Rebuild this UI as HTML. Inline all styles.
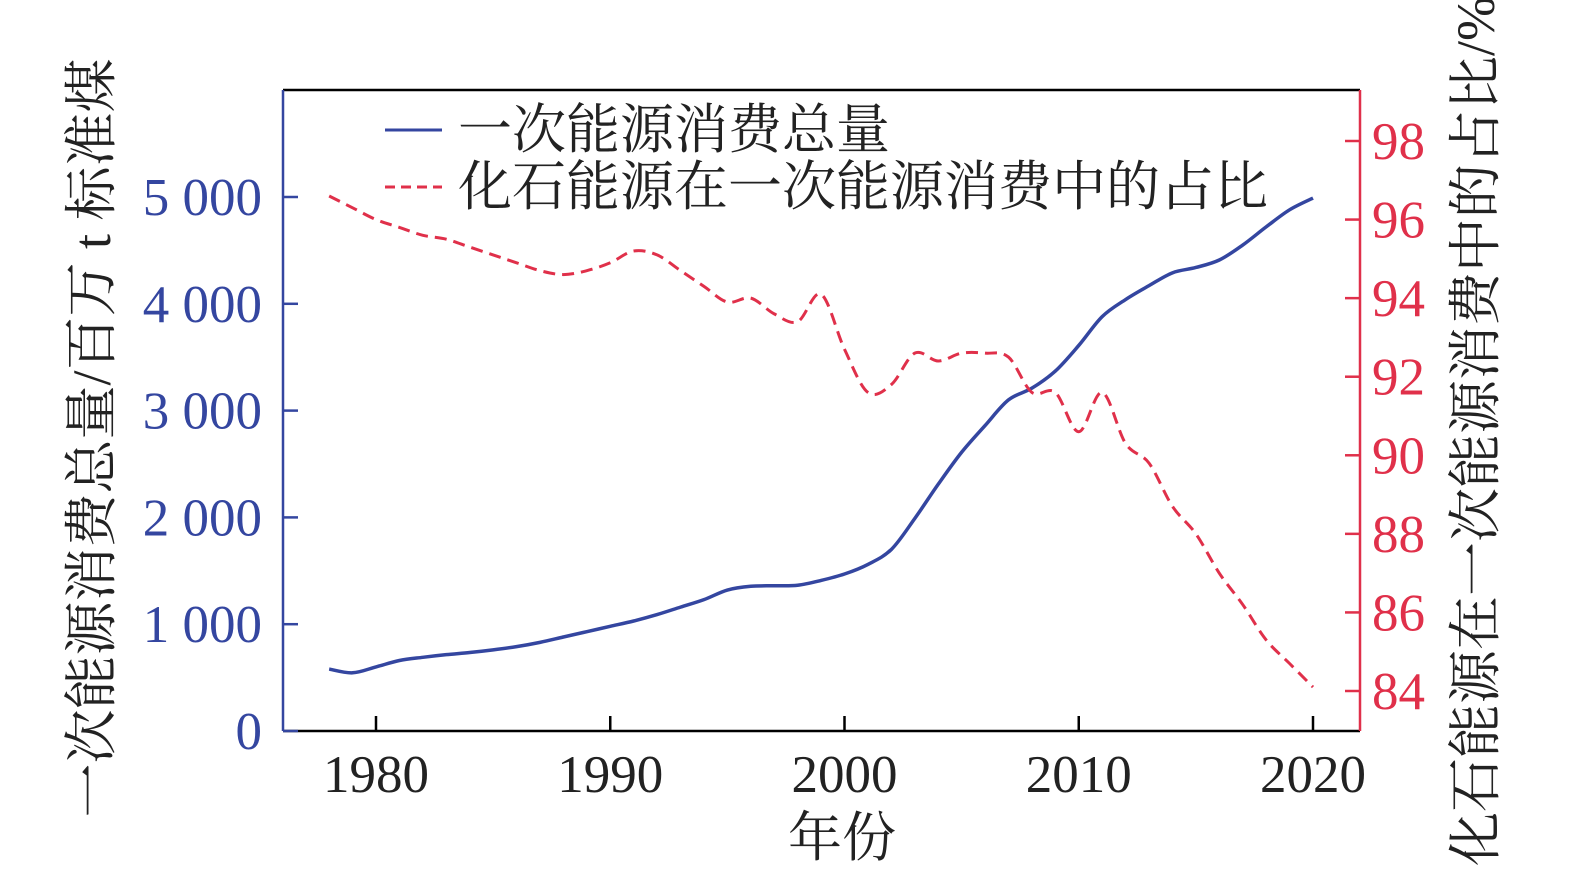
<!DOCTYPE html>
<html><head><meta charset="utf-8"><style>
html,body{margin:0;padding:0;background:#fff;}
svg{display:block;font-family:"Liberation Serif","Noto Serif CJK SC",serif;}
</style></head><body>
<svg id="chart" width="1575" height="878" viewBox="0 0 1575 878">
<g id="axes"></g><g id="marks"></g>
</svg>
<script>
const years=[1978,1979,1980,1981,1982,1983,1984,1985,1986,1987,1988,1989,1990,1991,1992,1993,1994,1995,1996,1997,1998,1999,2000,2001,2002,2003,2004,2005,2006,2007,2008,2009,2010,2011,2012,2013,2014,2015,2016,2017,2018,2019,2020];
const totalEnergy=[580,545,600,660,690,715,735,760,790,830,880,930,980,1030,1090,1160,1230,1320,1355,1360,1365,1410,1470,1560,1700,1990,2310,2610,2860,3100,3210,3370,3610,3880,4040,4170,4290,4340,4410,4550,4720,4880,4990];
const fossilShare=[96.6,96.3,96.0,95.8,95.6,95.5,95.3,95.1,94.9,94.7,94.6,94.7,94.9,95.2,95.1,94.7,94.3,93.9,94.0,93.6,93.4,94.1,92.7,91.6,91.8,92.6,92.4,92.6,92.6,92.5,91.6,91.6,90.6,91.6,90.3,89.8,88.7,88.0,87.0,86.2,85.3,84.7,84.1];
const leftTicks=[0,1000,2000,3000,4000,5000];
const leftTickLabels=["0","1 000","2 000","3 000","4 000","5 000"];
const rightTicks=[84,86,88,90,92,94,96,98];
const xTicks=[1980,1990,2000,2010,2020];

const X0=283,X1=1360,Y0=731,Y1=90;
const xs=y=>376+(y-1980)*(1313-376)/40;
const yl=v=>731-v*(731-197)/5000;
const yr=v=>691-(v-84)*(691-141)/14;
const NS="http://www.w3.org/2000/svg";
const axes=document.getElementById('axes'),marks=document.getElementById('marks');
function mk(tag,attrs,parent,text){const e=document.createElementNS(NS,tag);for(const k in attrs)e.setAttribute(k,attrs[k]);if(text!==undefined)e.textContent=text;parent.appendChild(e);return e;}
function smooth(pts){let d='M'+pts[0][0]+','+pts[0][1];for(let i=0;i<pts.length-1;i++){const p0=pts[Math.max(0,i-1)],p1=pts[i],p2=pts[i+1],p3=pts[Math.min(pts.length-1,i+2)];const c1x=p1[0]+(p2[0]-p0[0])/6,c1y=p1[1]+(p2[1]-p0[1])/6,c2x=p2[0]-(p3[0]-p1[0])/6,c2y=p2[1]-(p3[1]-p1[1])/6;d+=' C'+c1x+','+c1y+' '+c2x+','+c2y+' '+p2[0]+','+p2[1];}return d;}
const BLUE="#3446a0",RED="#e0304a";
let e;
e=mk('line',{x1:X0,y1:Y1,x2:X1,y2:Y1,stroke:'#000','stroke-width':2.5},axes);

e=mk('line',{x1:X0,y1:Y0,x2:X1,y2:Y0,stroke:'#000','stroke-width':2.5},axes);

e=mk('line',{x1:X0,y1:Y1,x2:X0,y2:Y0,stroke:BLUE,'stroke-width':2.5},axes);

e=mk('line',{x1:X1,y1:Y1,x2:X1,y2:Y0,stroke:RED,'stroke-width':2.5},axes);

leftTicks.forEach((v,i)=>{
 mk('line',{x1:X0,y1:yl(v),x2:X0+15,y2:yl(v),stroke:BLUE,'stroke-width':2.5},axes);
 e=mk('text',{x:262,y:yl(v)+18,'text-anchor':'end','font-size':53,fill:BLUE},axes,leftTickLabels[i]);
 
});
rightTicks.forEach(v=>{
 mk('line',{x1:X1,y1:yr(v),x2:X1-15,y2:yr(v),stroke:RED,'stroke-width':2.5},axes);
 e=mk('text',{x:1372,y:yr(v)+18,'font-size':53,fill:RED},axes,String(v));
 
});
xTicks.forEach(v=>{
 mk('line',{x1:xs(v),y1:Y0,x2:xs(v),y2:Y0-15,stroke:'#000','stroke-width':2.5},axes);
 e=mk('text',{x:xs(v),y:792,'text-anchor':'middle','font-size':53,fill:'#222'},axes,String(v));
 
});
e=mk('text',{x:842,y:856,'text-anchor':'middle','font-size':54,fill:'#222'},axes,'年份');

e=mk('text',{x:0,y:0,'text-anchor':'middle','font-size':54,fill:'#222',transform:'translate(110,438) rotate(-90)'},axes,'一次能源消费总量/百万 t 标准煤');

e=mk('text',{x:0,y:0,'text-anchor':'middle','font-size':54,fill:'#222',transform:'translate(1494,431) rotate(-90)'},axes,'化石能源在一次能源消费中的占比/%');


e=mk('path',{d:smooth(years.map((y,i)=>[xs(y),yl(totalEnergy[i])])),fill:'none',stroke:BLUE,'stroke-width':3.5,'stroke-linejoin':'round'},marks);

e=mk('path',{d:smooth(years.map((y,i)=>[xs(y),yr(fossilShare[i])])),fill:'none',stroke:RED,'stroke-width':3,'stroke-dasharray':'12 7','stroke-linejoin':'round'},marks);


const lg=mk('g',{},marks);

mk('line',{x1:385,y1:130,x2:442,y2:130,stroke:BLUE,'stroke-width':3},lg);
e=mk('text',{x:458,y:148,'font-size':54,fill:'#222'},lg,'一次能源消费总量');

mk('line',{x1:385,y1:187,x2:442,y2:187,stroke:RED,'stroke-width':3,'stroke-dasharray':'10 6'},lg);
e=mk('text',{x:458,y:205,'font-size':54,fill:'#222'},lg,'化石能源在一次能源消费中的占比');

</script>
</body></html>
